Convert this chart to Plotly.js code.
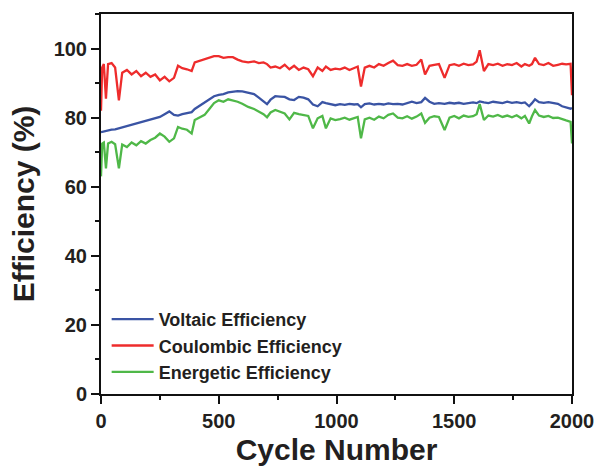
<!DOCTYPE html>
<html>
<head>
<meta charset="utf-8">
<script src="https://cdn.plot.ly/plotly-3.0.1.min.js"></script>
<style>html,body{margin:0;padding:0;background:#fff;}#chart{width:599px;height:469px;}</style>
</head>
<body>
<div id="chart"></div>
<script>
const cycles = [0,5,12,21,30,45,60,76,90,110,
130,150,170,190,210,230,250,270,290,310,
327,345,365,385,398,420,440,460,480,500,
520,540,560,580,600,625,650,670,690,705,
720,740,760,780,800,820,840,860,880,900,
920,940,955,975,995,1015,1035,1055,1075,1090,
1104,1120,1140,1160,1180,1200,1220,1240,1260,1280,
1300,1320,1340,1360,1376,1395,1415,1435,1459,1480,
1500,1520,1540,1560,1580,1595,1608,1626,1645,1665,
1685,1705,1725,1745,1765,1785,1800,1818,1830,1843,
1860,1880,1900,1920,1940,1958,1975,1994,2000];

const voltaic = [75.8,75.9,76,76.1,76.2,76.5,76.6,76.9,77.2,77.5,
77.8,78.3,78.6,79,79.5,79.8,80.2,81,81.8,80.8,
80.6,81,81.2,81.6,82.5,83.5,84.3,85.2,86.2,86.6,
86.8,87.3,87.6,87.7,87.6,87.3,86.8,85.8,84.8,83.9,
85.2,86.2,86.1,86,85.3,85.1,86,85.8,85.3,83.8,
83.3,84.5,84.2,83.8,83.6,83.9,83.7,84,83.8,83.9,
83,83.9,84.1,83.8,84,83.8,84.1,83.9,84,83.8,
84.1,84.6,84.2,84.5,85.7,84.6,84,84.2,84,84.3,
84.1,84.3,84,84.2,84.4,84.2,84.7,84.4,84.2,84.6,
84.4,84.2,84.6,84.3,84.5,84.2,84.4,83.3,84.2,85.3,
84.5,84.3,84.5,84.2,84,83.3,83,82.6,82.8];

const coulombic = [82,94.5,95.5,85.5,95.5,95.8,94.5,85,93,93.8,
92.5,93.5,92,93,91.8,92.5,90.8,91.8,90.5,91.5,
95,94.3,94,93.5,96,96.5,97,97.3,97.8,97.8,
97.3,97.5,97.5,96.8,96.3,96,96.3,95.8,96,95.5,
94.5,94.8,94.3,95.3,94,95,93.8,94.5,94,92,
94.5,93.5,94.8,93.8,94.2,94,94.5,93.8,94.3,94.8,
89,94.5,95,94.5,95.5,95,95.8,96.5,95.2,95,
95.5,95,95.3,96.8,92.5,95,95.3,95.5,91.5,95.2,
95.5,95,95.6,95.2,95.4,96.2,99.5,93.5,95.5,95.2,
95.6,95,95.5,95.2,95.8,94.8,95.5,95,95.5,97.3,
95.5,95.2,95.8,95,95.3,95.6,95.4,95.6,86.5];

const energetic = [63,72.5,72.8,65.3,72.5,73,72.3,65.3,72.2,71.5,
72.8,72,73.2,72.5,73.5,74.2,75.4,74.5,73,74,
77.3,76.8,76.5,75.4,79.3,80,80.8,82.5,84.2,85,
84.6,85.3,85,84.6,84,83.1,82.5,81.7,81,80.1,
81.5,82.2,81.8,81.2,79.5,81.4,81,80.7,80.5,76.9,
79.8,80.5,76.9,79.8,79.3,79.6,80,79.4,79.8,80.2,
74,79.5,80,79.4,80.3,79.8,80.8,81.2,80,79.8,
80.4,79.7,80.3,81.2,78.5,80,80.4,80.2,76.4,80,
80.5,79.8,80.6,80.2,80.4,81,83.9,79.3,80.6,80.3,
80.8,80.2,80.6,80.1,80.7,79.8,80.5,78.3,80.4,82.2,
80.6,80.2,80.5,79.9,80,79.5,79.2,78.8,72.5];

const seriesNames = ["Voltaic Efficiency","Coulombic Efficiency","Energetic Efficiency"];
const seriesColors = ["#3a54a4","#ee2c2c","#4fb848"];
const seriesValues = [voltaic, coulombic, energetic];

const traces = seriesValues.map((v,i)=>({
  x: cycles, y: v, type:'scatter', mode:'lines', name: seriesNames[i],
  line:{color:seriesColors[i], width:2.3}
}));

const ink = '#231f20';
const fam = '"Liberation Sans", Arial, sans-serif';
const layout = {
  width:599, height:469,
  margin:{l:101, r:27, t:14, b:75},
  paper_bgcolor:'#fff', plot_bgcolor:'#fff',
  font:{family:fam, color:ink},
  showlegend:true,
  legend:{x:0.012, y:0.245, xanchor:'left', yanchor:'top', bgcolor:'rgba(0,0,0,0)',
    itemwidth:42,
    font:{size:18, weight:700, color:ink, family:fam}, tracegroupgap:0},
  xaxis:{range:[0,2000], tickvals:[0,500,1000,1500,2000], showgrid:false, zeroline:false,
    showline:true, mirror:true, linecolor:'#111', linewidth:2,
    ticks:'outside', ticklen:8, tickwidth:2, tickcolor:'#111',
    minor:{dtick:250, ticklen:4, tickwidth:2, tickcolor:'#111', showgrid:false},
    tickfont:{size:20, weight:700, color:ink, family:fam},
    title:{text:'Cycle Number', font:{size:30, weight:700, color:ink, family:fam}, standoff:8}},
  yaxis:{range:[0,110], tickvals:[0,20,40,60,80,100], showgrid:false, zeroline:false,
    showline:true, mirror:true, linecolor:'#111', linewidth:2,
    ticks:'outside', ticklen:8, tickwidth:2, tickcolor:'#111',
    minor:{dtick:10, ticklen:4, tickwidth:2, tickcolor:'#111', showgrid:false},
    tickfont:{size:20, weight:700, color:ink, family:fam},
    title:{text:'Efficiency (%)', font:{size:30, weight:700, color:ink, family:fam}, standoff:10}}
};
Plotly.newPlot('chart', traces, layout, {displayModeBar:false, staticPlot:true});
</script>
</body>
</html>
